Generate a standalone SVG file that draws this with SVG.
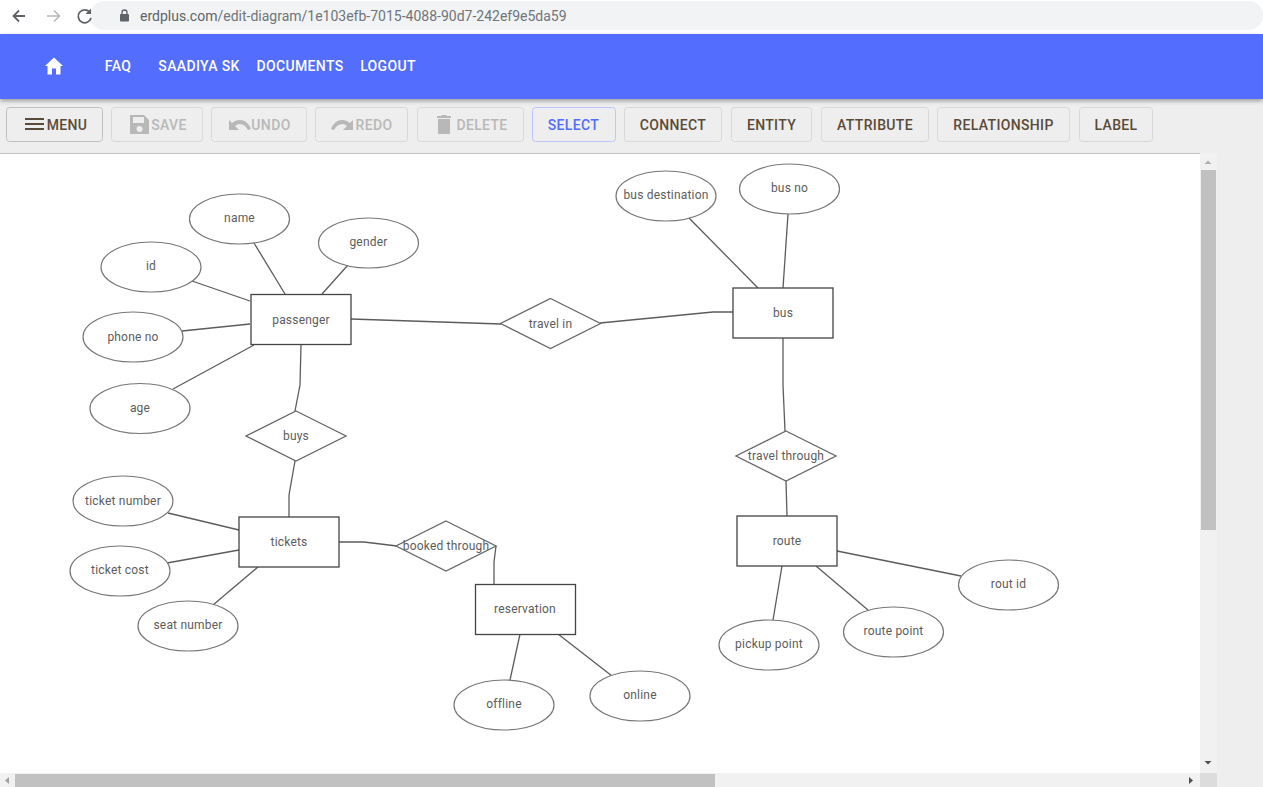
<svg xmlns="http://www.w3.org/2000/svg" width="1263" height="787" viewBox="0 0 1263 787">
<style>
.ui{font-family:Roboto,"Liberation Sans",sans-serif;font-weight:500}
.nav{fill:#fff;font-size:14px;text-anchor:middle;letter-spacing:.35px}
.btn{fill:#eeeeee;stroke:#d8d8d8;stroke-width:1}
.bt{font-size:14px;fill:#5a4a38;text-anchor:middle;letter-spacing:.35px}
.dis{font-size:14px;fill:#b8b8b8;text-anchor:middle;letter-spacing:.35px}
.attr{fill:#fff;stroke:#777;stroke-width:1.2}
.ent{fill:#fff;stroke:#444;stroke-width:1.3}
.rel{fill:#fff;stroke:#666;stroke-width:1.3}
.lbl{font-family:Roboto,"Liberation Sans",sans-serif;font-size:12px;fill:#5c5c5c;text-anchor:middle;letter-spacing:.2px}
#connectors polyline{fill:none;stroke:#5c5c5c;stroke-width:1.3}
</style>
<defs>
<filter id="sh" x="-2%" y="-20%" width="104%" height="150%"><feDropShadow dx="0" dy="2" stdDeviation="2" flood-color="#000" flood-opacity=".35"/></filter>
</defs>
<rect width="1263" height="787" fill="#fff"/>
<g id="browser-bar">
<rect x="0" y="0" width="1263" height="33" fill="#fff"/>
<rect x="90" y="1" width="1173" height="29" rx="14.5" fill="#f1f3f4"/>
<path d="M25 16H14M19 10.500L13.500 16L19 21.500" fill="none" stroke="#5f6368" stroke-width="1.800"/>
<path d="M59 16H47M54 10.500L59.500 16L54 21.500" fill="none" stroke="#b5b8bb" stroke-width="1.500"/>
<path d="M90 12.500A6.500 6.500 0 1 0 91 18" fill="none" stroke="#5f6368" stroke-width="1.800"/>
<path d="M91 8.500V14H85.500Z" fill="#5f6368"/>
<rect x="120" y="14" width="9" height="7.500" rx="1" fill="#5f6368"/>
<path d="M122 14.500V12.500A2.500 2.500 0 0 1 127 12.500V14.500" fill="none" stroke="#5f6368" stroke-width="1.300"/>
<text x="140" y="21" font-family="Roboto,'Liberation Sans',sans-serif" font-size="14" fill="#5f6368">erdplus.com<tspan fill="#70757a">/edit-diagram/1e103efb-7015-4088-90d7-242ef9e5da59</tspan></text>
</g>
<rect x="0" y="99" width="1263" height="688" fill="#eeeeee"/>
<g id="navbar">
<rect x="0" y="34" width="1263" height="65" fill="#536dfe" filter="url(#sh)"/>
<path d="M54 57.500L45 66H47.500V74.500H52V68.500H56V74.500H60.500V66H63Z" fill="#fff"/>
<text class="ui nav" x="118" y="71">FAQ</text>
<text class="ui nav" x="199" y="71">SAADIYA SK</text>
<text class="ui nav" x="300" y="71">DOCUMENTS</text>
<text class="ui nav" x="388" y="71">LOGOUT</text>
</g>
<g id="toolbar">
<rect class="btn" x="6.500" y="107.500" width="96" height="34" rx="3" style="stroke:#c0c0c0"/>
<path d="M25 119H44M25 124H44M25 129H44" stroke="#5a4a38" stroke-width="2" fill="none"/>
<text class="ui bt" x="67" y="130">MENU</text>
<rect class="btn" x="111.500" y="107.500" width="91" height="34" rx="3"/>
<path d="M130 115H144L149 120V134H130ZM133 117V123H144V117ZM139.500 126A3 3 0 1 0 139.600 132A3 3 0 1 0 139.500 126Z" fill="#b8b8b8" fill-rule="evenodd"/>
<text class="ui dis" x="169" y="130">SAVE</text>
<rect class="btn" x="211.500" y="107.500" width="95" height="34" rx="3"/>
<path d="M229 120V130H239L235 126C239 122 245 124 248 130L251 129C248 120 239 117 232 123Z" fill="#b8b8b8"/>
<text class="ui dis" x="271" y="130">UNDO</text>
<rect class="btn" x="315.500" y="107.500" width="92" height="34" rx="3"/>
<path d="M353 120V130H343L347 126C343 122 337 124 334 130L331 129C334 120 343 117 350 123Z" fill="#b8b8b8"/>
<text class="ui dis" x="374" y="130">REDO</text>
<rect class="btn" x="417.500" y="107.500" width="106" height="34" rx="3"/>
<path d="M437 116H441L442 115H446L447 116H451V118H437ZM438 119H450V134H438Z" fill="#b8b8b8"/>
<text class="ui dis" x="482" y="130">DELETE</text>
<rect class="btn" x="532.500" y="107.500" width="83" height="34" rx="3" style="stroke:#bcc6fb"/>
<text class="ui bt" x="573.500" y="130" style="fill:#536dfe">SELECT</text>
<rect class="btn" x="624.500" y="107.500" width="97" height="34" rx="3"/>
<text class="ui bt" x="673" y="130">CONNECT</text>
<rect class="btn" x="731.500" y="107.500" width="80" height="34" rx="3"/>
<text class="ui bt" x="771.500" y="130">ENTITY</text>
<rect class="btn" x="821.500" y="107.500" width="107" height="34" rx="3"/>
<text class="ui bt" x="875" y="130">ATTRIBUTE</text>
<rect class="btn" x="937.500" y="107.500" width="132" height="34" rx="3"/>
<text class="ui bt" x="1003.500" y="130">RELATIONSHIP</text>
<rect class="btn" x="1079.500" y="107.500" width="73" height="34" rx="3"/>
<text class="ui bt" x="1116" y="130">LABEL</text>
</g>
<g id="canvas">
<rect x="0" y="153" width="1200" height="620" fill="#fff"/>
<path d="M0 153.500H1200" stroke="#c4c4c4" stroke-width="1"/>
</g>
<g id="scrollbars">
<rect x="1200" y="153" width="17" height="634" fill="#f1f1f1"/>
<rect x="1201" y="170" width="15" height="360" fill="#c1c1c1"/>
<path d="M1204.500 164L1208 160.500L1211.500 164Z" fill="#b0b0b0"/>
<path d="M1204.500 761L1208 764.500L1211.500 761Z" fill="#505050"/>
<rect x="0" y="773" width="1200" height="14" fill="#f1f1f1"/>
<rect x="15" y="774" width="700" height="13" fill="#c1c1c1"/>
<path d="M9 777L5 780.500L9 784Z" fill="#a0a0a0"/>
<path d="M1189 777L1193 780.500L1189 784Z" fill="#505050"/>
<rect x="1200" y="773" width="17" height="14" fill="#dcdcdc"/>
</g>
<g id="connectors">
<polyline points="254,243 285,294"/>
<polyline points="348,265 322,294"/>
<polyline points="192,281 250,301"/>
<polyline points="182,331 250,324"/>
<polyline points="173,389 254,345"/>
<polyline points="351,319 501,324"/>
<polyline points="600,323 713,312 733,312"/>
<polyline points="301,345 300,385 295,411"/>
<polyline points="295,461 289,495 289,517"/>
<polyline points="168,513 239,530"/>
<polyline points="167,563 239,550"/>
<polyline points="213,605 258,567"/>
<polyline points="339,542 364,542 397,546"/>
<polyline points="496,546 494,562 494,584"/>
<polyline points="520,634 510,680"/>
<polyline points="558,634 612,676"/>
<polyline points="689,218 758,288"/>
<polyline points="788,214 783,288"/>
<polyline points="783,338 783,385 785,431"/>
<polyline points="786,481 787,516"/>
<polyline points="782,566 773,620"/>
<polyline points="816,566 868,610"/>
<polyline points="837,551 961,576"/>
</g>
<g id="n-name"><ellipse class="attr" cx="239.500" cy="219" rx="50" ry="25"/><text class="lbl" x="239.500" y="222">name</text></g>
<g id="n-gender"><ellipse class="attr" cx="368.500" cy="243" rx="50" ry="25"/><text class="lbl" x="368.500" y="246">gender</text></g>
<g id="n-id"><ellipse class="attr" cx="151" cy="267" rx="50" ry="25"/><text class="lbl" x="151" y="270">id</text></g>
<g id="n-phone-no"><ellipse class="attr" cx="133" cy="337" rx="50" ry="25"/><text class="lbl" x="133" y="340.500">phone no</text></g>
<g id="n-age"><ellipse class="attr" cx="140" cy="408.500" rx="50" ry="25"/><text class="lbl" x="140" y="411.500">age</text></g>
<g id="n-passenger"><rect class="ent" x="251" y="294.500" width="100" height="50"/><text class="lbl" x="301" y="323.500">passenger</text></g>
<g id="n-travel-in"><polygon class="rel" points="550.500,298.500 600.500,323.500 550.500,348.500 500.500,323.500"/><text class="lbl" x="550.500" y="327.500">travel in</text></g>
<g id="n-bus-destination"><ellipse class="attr" cx="666" cy="196" rx="50" ry="25"/><text class="lbl" x="666" y="199">bus destination</text></g>
<g id="n-bus-no"><ellipse class="attr" cx="789.500" cy="189" rx="50" ry="25"/><text class="lbl" x="789.500" y="192">bus no</text></g>
<g id="n-bus"><rect class="ent" x="733" y="288" width="100" height="50"/><text class="lbl" x="783" y="316.500">bus</text></g>
<g id="n-buys"><polygon class="rel" points="296,411 346,436 296,461 246,436"/><text class="lbl" x="296" y="439.500">buys</text></g>
<g id="n-travel-through"><polygon class="rel" points="786,431 836,456 786,481 736,456"/><text class="lbl" x="786" y="459.500">travel through</text></g>
<g id="n-ticket-number"><ellipse class="attr" cx="123" cy="501" rx="50" ry="25"/><text class="lbl" x="123" y="504.500">ticket number</text></g>
<g id="n-ticket-cost"><ellipse class="attr" cx="120" cy="571" rx="50" ry="25"/><text class="lbl" x="120" y="574">ticket cost</text></g>
<g id="n-seat-number"><ellipse class="attr" cx="188" cy="626" rx="50" ry="25"/><text class="lbl" x="188" y="629">seat number</text></g>
<g id="n-tickets"><rect class="ent" x="239" y="517" width="100" height="50"/><text class="lbl" x="289" y="545.500">tickets</text></g>
<g id="n-booked-through"><polygon class="rel" points="446,521 496,546 446,571 396,546"/><text class="lbl" x="446" y="549.500">booked through</text></g>
<g id="n-reservation"><rect class="ent" x="475.500" y="584.500" width="100" height="50"/><text class="lbl" x="525" y="612.500">reservation</text></g>
<g id="n-offline"><ellipse class="attr" cx="504" cy="705" rx="50" ry="25"/><text class="lbl" x="504" y="708">offline</text></g>
<g id="n-online"><ellipse class="attr" cx="640" cy="696" rx="50" ry="25"/><text class="lbl" x="640" y="699">online</text></g>
<g id="n-route"><rect class="ent" x="737" y="516" width="100" height="50"/><text class="lbl" x="787" y="544.500">route</text></g>
<g id="n-pickup-point"><ellipse class="attr" cx="769" cy="645" rx="50" ry="25"/><text class="lbl" x="769" y="648">pickup point</text></g>
<g id="n-route-point"><ellipse class="attr" cx="893.500" cy="632" rx="50" ry="25"/><text class="lbl" x="893.500" y="635">route point</text></g>
<g id="n-rout-id"><ellipse class="attr" cx="1008.500" cy="585" rx="50" ry="25"/><text class="lbl" x="1008.500" y="588">rout id</text></g>
</svg>
